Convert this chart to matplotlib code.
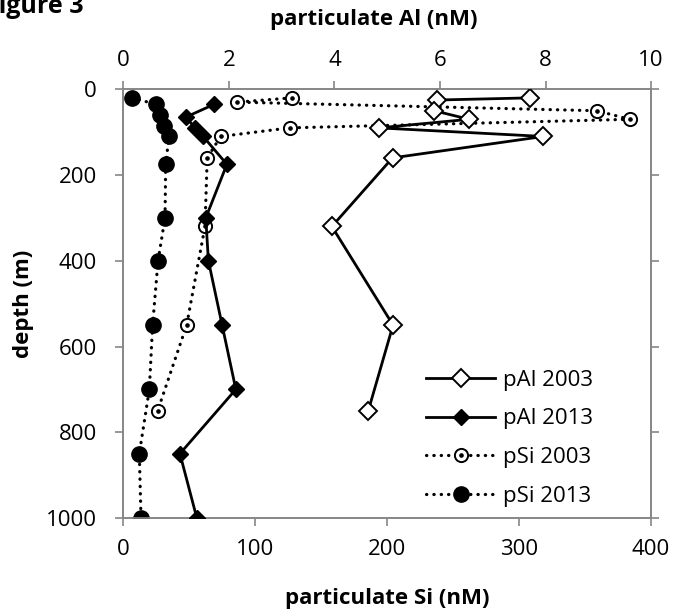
import matplotlib
matplotlib.use("Agg")
import matplotlib.pyplot as plt
from matplotlib.legend_handler import HandlerTuple

plt.rcParams['font.family'] = ['Open Sans', 'DejaVu Sans']

# particulate Al (nM) -> top axis
pal03_depth = [20, 25, 50, 70, 90, 110, 160, 320, 550, 750]
pal03 = [7.71, 5.95, 5.89, 6.55, 4.84, 7.96, 5.10, 3.95, 5.11, 4.64]
pal13_depth = [35, 65, 90, 110, 175, 300, 400, 550, 700, 850, 1000]
pal13 = [1.72, 1.18, 1.36, 1.51, 1.96, 1.56, 1.61, 1.87, 2.13, 1.07, 1.39]

# particulate Si (nM) -> bottom axis
psi03_depth = [20, 30, 50, 70, 90, 110, 160, 320, 550, 750]
psi03 = [127.5, 86.3, 358.7, 384.0, 126.0, 73.7, 63.5, 61.8, 47.9, 25.9]
psi13_depth = [20, 35, 60, 85, 110, 175, 300, 400, 550, 700, 850, 1000]
psi13 = [6.4, 24.8, 27.7, 30.7, 34.5, 32.0, 31.5, 26.2, 22.1, 19.6, 12.0, 13.3]

si_ticks = [0, 100, 200, 300, 400]
al_ticks = [0, 2, 4, 6, 8, 10]
depth_ticks = [0, 200, 400, 600, 800, 1000]

gray = '#868686'
fs = 16
lfs = 16

fig = plt.figure(figsize=(6.74, 6.12), dpi=100)
ax = fig.add_axes([0.1832, 0.1536, 0.7827, 0.7005])
ax.set_xlim(0, 400)
ax.set_ylim(1000, 0)
ax2 = ax.twiny()
ax2.set_xlim(0, 10)

dot = (0, (0.1, 2.2))

# Si series
l_si03, = ax.plot(psi03, psi03_depth, color='black', lw=2.3, linestyle=dot,
                  dash_capstyle='round', marker='o', ms=9.5, mfc='white',
                  mec='black', mew=1.4, zorder=3)
c_si03, = ax.plot(psi03, psi03_depth, linestyle='none', marker='o', ms=2.3,
                  color='black', zorder=4)
l_si13, = ax.plot(psi13, psi13_depth, color='black', lw=2.3, linestyle=dot,
                  dash_capstyle='round', marker='o', ms=11, mfc='black',
                  mec='black', zorder=3)

# Al series
l_al03, = ax2.plot(pal03, pal03_depth, color='black', lw=2, marker='D', ms=9,
                   mfc='white', mec='black', mew=1.4, zorder=3)
l_al13, = ax2.plot(pal13, pal13_depth, color='black', lw=2, marker='D', ms=8.5,
                   mfc='black', mec='black', zorder=3)

for a in (ax, ax2):
    for s in a.spines.values():
        s.set_color(gray)
        s.set_linewidth(1.2)

ax.set_xticks(si_ticks)
ax.set_yticks(depth_ticks)
ax2.set_xticks(al_ticks)
ax.tick_params(axis='x', direction='out', length=6, width=1.2, color=gray,
               labelsize=fs, pad=9)
ax.tick_params(axis='y', direction='out', length=6, width=1.2, color=gray,
               labelsize=fs, pad=13, right=True, labelright=False)
ax2.tick_params(axis='x', direction='out', length=6, width=1.2, color=gray,
                labelsize=fs, pad=7)

ax.set_xlabel('particulate Si (nM)', fontsize=lfs, fontweight='bold', labelpad=20)
ax.set_ylabel('depth (m)', fontsize=lfs, fontweight='bold', labelpad=9)
ax2.set_xlabel('particulate Al (nM)', fontsize=lfs, fontweight='bold', labelpad=18)
ax2.xaxis.label.set_x(0.475)

ax2.legend([l_al03, l_al13, (l_si03, c_si03), l_si13],
           ['pAl 2003', 'pAl 2013', 'pSi 2003', 'pSi 2013'],
           handler_map={tuple: HandlerTuple(ndivide=1)},
           loc='lower right', bbox_to_anchor=(0.911, 0.0), frameon=False,
           fontsize=fs, handlelength=3.1, handletextpad=0.35, labelspacing=0.8,
           borderpad=0)

fig.text(-0.022, 0.979, 'Figure 3', fontsize=18, fontweight='bold', va='baseline')

fig.savefig('out.png', dpi=100)
